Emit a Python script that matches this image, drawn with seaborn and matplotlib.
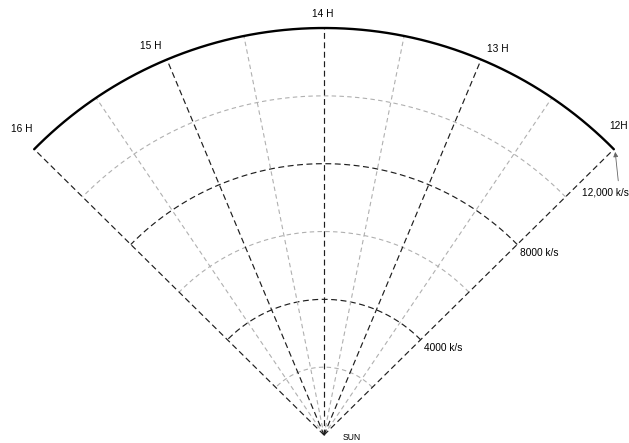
import numpy as np
import pandas as pd
import matplotlib
matplotlib.use("Agg")
import matplotlib.pyplot as plt
import seaborn as sns

# Right ascension (hours) and recession velocity (k/s) grid of the survey wedge
hours_major = [12, 13, 14, 15, 16]
hour_labels = ["12H", "13 H", "14 H", "15 H", "16 H"]
hours_minor = [12.5, 13.5, 14.5, 15.5]
velocity_major = [4000, 8000]
velocity_minor = [2000, 6000, 10000]
velocity_outer = 12000
velocity_labels = {4000: "4000 k/s", 8000: "8000 k/s", 12000: "12,000 k/s"}

DEG_PER_HOUR = 22.7  # the 4-hour wedge is opened to about 90 degrees
CENTER_HOUR = 14


def to_xy(hour, vel):
    ang = np.deg2rad((CENTER_HOUR - np.asarray(hour, dtype=float)) * DEG_PER_HOUR)
    v = np.asarray(vel, dtype=float)
    return v * np.sin(ang), v * np.cos(ang)


sns.set_style("white")
plt.rcParams["font.family"] = ["Liberation Sans", "DejaVu Sans"]

fig = plt.figure(figsize=(6.29, 4.43), dpi=100)
ax = fig.add_axes([0, 0, 1, 1])

dark = "#1e1e1e"
light = "#b0b0b0"
dash_dark = (0, (5, 3))
dash_light = (0, (4, 3))


def draw(hour, vel, color, ls, lw):
    x, y = to_xy(hour, vel)
    df = pd.DataFrame({"x": x, "y": y})
    sns.lineplot(data=df, x="x", y="y", ax=ax, color=color, linestyle=ls,
                 linewidth=lw, sort=False, estimator=None, legend=False)


arc_hours = np.linspace(12, 16, 300)

# constant-velocity arcs
for v in velocity_minor:
    draw(arc_hours, np.full_like(arc_hours, v), light, dash_light, 0.8)
for v in velocity_major:
    draw(arc_hours, np.full_like(arc_hours, v), dark, dash_dark, 0.85)

# radial lines of constant right ascension
for h in hours_minor:
    draw([h, h], [0, velocity_outer], light, dash_light, 0.8)
for h in hours_major:
    draw([h, h], [0, velocity_outer], dark, dash_dark, 0.85)

# outer boundary
draw(arc_hours, np.full_like(arc_hours, velocity_outer), "black", "-", 1.7)

# hour labels just outside the rim
label_pos = {12: (12.076, 12588), 13: (12.932, 12497), 14: (14.005, 12411),
             15: (15.056, 12558), 16: (15.965, 12676)}
for h, lab in zip(hours_major, hour_labels):
    lh, lr = label_pos[h]
    x, y = to_xy(lh, lr)
    ax.text(x, y, lab, ha="center", va="center", fontsize=7.3, color="black")

# velocity labels along the 12H edge
for v in velocity_major:
    x, y = to_xy(12, v)
    ax.text(x + 90, y - 240, velocity_labels[v], ha="left", va="center",
            fontsize=7.3, color="black")

x12, y12 = to_xy(12, velocity_outer)
ax.text(x12 - 950, y12 - 1290, velocity_labels[velocity_outer], ha="left",
        va="center", fontsize=7.3, color="black")
ax.annotate("", xy=(x12 + 40, y12 - 80), xytext=(x12 + 130, y12 - 930),
            arrowprops=dict(arrowstyle="-|>", color="#666666", lw=0.6,
                            mutation_scale=7, shrinkA=0, shrinkB=0))

ax.text(560, -74, "SUN", ha="left", va="center", fontsize=6.2, color="black")

ax.set_xlim(-9552, 8991)
ax.set_ylim(-236, 12826)
ax.set_aspect("equal", adjustable="datalim")
ax.axis("off")

fig.savefig("out.png", dpi=100, facecolor="white")
